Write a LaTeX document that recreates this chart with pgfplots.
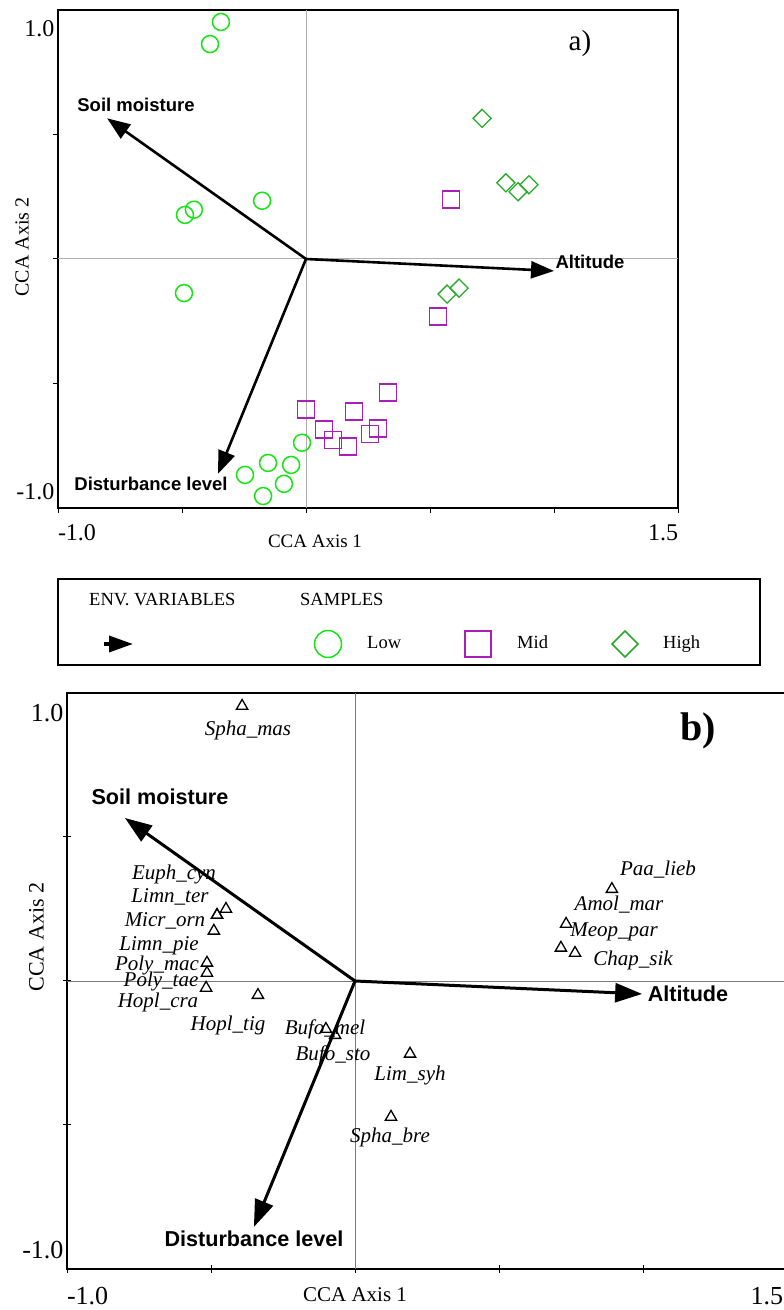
\documentclass[border=0pt]{standalone}
\usepackage{fontspec}
\setmainfont{Liberation Serif}
\newfontfamily\arialfont{Liberation Sans}
\usepackage{pgfplots}
\pgfplotsset{compat=1.18}
\usetikzlibrary{arrows.meta}
\definecolor{lowg}{RGB}{20,230,20}
\definecolor{midp}{RGB}{170,30,185}
\definecolor{highg}{RGB}{40,170,40}
\definecolor{zeroa}{RGB}{175,175,175}
\definecolor{zerob}{RGB}{120,120,120}
\newcommand{\fs}[1]{\fontsize{#1}{#1}\selectfont}
\tikzset{lab/.style={inner sep=0pt, text height=0.7em, text depth=0pt},
  bl/.style={lab, font=\arialfont\bfseries\fs{#1}},
  sp/.style={lab, font=\itshape\fs{21}}}
\begin{document}
\begin{tikzpicture}
\useasboundingbox (0pt,0pt) rectangle (784pt,1310pt);
% ---------------- panel a
\begin{axis}[at={(58pt,802pt)}, anchor=south west, width=620pt, height=498pt, scale only axis,
 xmin=-1, xmax=1.5, ymin=-1, ymax=1,
 axis line style={line width=1.2pt},
 tick pos=left, tick align=outside, major tick length=5pt, tick style={line width=1pt, black},
 xtick={-1,-0.5,0,0.5,1,1.5}, xticklabels={\makebox[0pt][l]{-1.0},,,,,\makebox[0pt][r]{1.5}},
 ytick={-0.5,0,0.5}, yticklabels={},
 extra y ticks={-0.935,0.923}, extra y tick labels={-1.0,1.0},
 extra y tick style={major tick length=0pt},
 ticklabel style={font=\fs{24}},
 xticklabel style={yshift=-8pt},
]
\addplot[zeroa, line width=1pt] coordinates {(0,-1) (0,1)};
\addplot[zeroa, line width=1pt] coordinates {(-1,0) (1.5,0)};
\addplot[only marks, mark=o, mark size=8.5pt, draw=lowg, line width=1.5pt] coordinates {
(-0.343,0.952) (-0.387,0.863) (-0.177,0.234) (-0.452,0.198) (-0.488,0.177) (-0.492,-0.137)
(-0.016,-0.738) (-0.153,-0.819) (-0.060,-0.827) (-0.246,-0.867) (-0.089,-0.903) (-0.173,-0.952)};
\addplot[only marks, mark=square, mark size=8.5pt, draw=midp, line width=1.5pt] coordinates {
(0.585,0.238) (0.532,-0.230) (0.331,-0.536) (0.000,-0.605) (0.194,-0.613)
(0.073,-0.685) (0.109,-0.726) (0.169,-0.754) (0.258,-0.702) (0.290,-0.681)};
\addplot[only marks, mark=square, mark size=6.4pt, mark options={rotate=45}, draw=highg, line width=1.3pt] coordinates {
(0.710,0.565) (0.806,0.306) (0.855,0.270) (0.899,0.298) (0.617,-0.117) (0.569,-0.141)};
\addplot[black, line width=2.6pt, -{Triangle[length=23pt,width=17pt]}] coordinates {(0,0) (-0.802,0.565)};
\addplot[black, line width=2.6pt, -{Triangle[length=23pt,width=17pt]}] coordinates {(0,0) (1.0,-0.048)};
\addplot[black, line width=2.6pt, -{Triangle[length=23pt,width=17pt]}] coordinates {(0,0) (-0.355,-0.863)};
\end{axis}
\node[bl=18.5] at (136pt,1202pt) {Soil moisture};
\node[bl=18.5] at (590pt,1045pt) {Altitude};
\node[bl=18.5] at (151pt,823pt) {Disturbance level};
\node[lab, font=\fs{29}] at (580pt,1263pt) {a)};
\node[lab, font=\fs{20}, rotate=90] at (25pt,1063pt) {CCA Axis 2};
\node[lab, font=\fs{19}] at (315pt,766pt) {CCA Axis 1};
% ---------------- legend box
\begin{axis}[at={(58pt,645pt)}, anchor=south west, width=702pt, height=86pt, scale only axis,
 xmin=58, xmax=760, ymin=579, ymax=665, y dir=reverse,
 xtick=\empty, ytick=\empty, axis line style={line width=2pt}, clip=false]
\addplot[black, line width=3.5pt, -{Triangle[length=24pt,width=16pt]}] coordinates {(104,644) (133,644)};
\addplot[only marks, mark=o, mark size=13.5pt, draw=lowg, line width=1.5pt] coordinates {(328,644)};
\addplot[only marks, mark=square, mark size=13pt, draw=midp, line width=1.5pt] coordinates {(478,644)};
\addplot[only marks, mark=square, mark size=9.2pt, mark options={rotate=45}, draw=highg, line width=1.5pt] coordinates {(625,644)};
\end{axis}
\node[lab, font=\fs{18.5}, anchor=west] at (89pt,708pt) {ENV. VARIABLES};
\node[lab, font=\fs{18.5}, anchor=west] at (300pt,708pt) {SAMPLES};
\node[lab, font=\fs{18.5}, anchor=west] at (367pt,665pt) {Low};
\node[lab, font=\fs{18.5}, anchor=west] at (517pt,665pt) {Mid};
\node[lab, font=\fs{18.5}, anchor=west] at (663pt,665pt) {High};
% ---------------- panel b
\begin{axis}[at={(67pt,41pt)}, anchor=south west, width=720pt, height=576pt, scale only axis,
 xmin=-1, xmax=1.5, ymin=-1, ymax=1,
 axis line style={line width=1.2pt},
 tick pos=left, tick align=center, major tick length=7pt, tick style={line width=1pt, black},
 xtick={-1,-0.5,0,0.5,1,1.5}, xticklabels={\makebox[0pt][l]{-1.0},,,,,\makebox[0pt][r]{1.5\hspace{4pt}}},
 ytick={-0.5,0,0.5}, yticklabels={},
 extra y ticks={-0.934,0.931}, extra y tick labels={-1.0,1.0},
 extra y tick style={major tick length=0pt},
 ticklabel style={font=\fs{26}},
 xticklabel style={yshift=-11pt},
]
\addplot[zerob, line width=0.6pt] coordinates {(0,-1) (0,1)};
\addplot[zerob, line width=0.6pt] coordinates {(-1,0) (1.5,0)};
\addplot[only marks, mark=triangle, mark size=6.5pt, draw=black, line width=1.3pt] coordinates {
(-0.392,0.955) (-0.448,0.250) (-0.479,0.229) (-0.479,0.229) (-0.490,0.174) (-0.514,0.063) (-0.514,0.028)
(-0.517,-0.024) (-0.337,-0.049) (-0.101,-0.167) (-0.069,-0.188) (0.191,-0.253) (0.125,-0.472)
(0.892,0.319) (0.733,0.198) (0.715,0.115) (0.764,0.097)};
\addplot[black, line width=3pt, -{Triangle[length=27pt,width=19pt]}] coordinates {(0,0) (-0.799,0.566)};
\addplot[black, line width=3pt, -{Triangle[length=27pt,width=19pt]}] coordinates {(0,0) (0.997,-0.045)};
\addplot[black, line width=3pt, -{Triangle[length=27pt,width=19pt]}] coordinates {(0,0) (-0.351,-0.854)};
\end{axis}
\node[bl=21.6] at (160pt,509pt) {Soil moisture};
\node[bl=21.6] at (688pt,312pt) {Altitude};
\node[bl=21.6] at (254pt,67pt) {Disturbance level};
\node[lab, font=\bfseries\fs{40}] at (698pt,573pt) {b)};
\node[lab, font=\fs{22}, rotate=90] at (40pt,373pt) {CCA Axis 2};
\node[lab, font=\fs{21}] at (355pt,12pt) {CCA Axis 1};
% species labels
\node[sp] at (248pt,578pt) {Spha\_mas};
\node[sp] at (174pt,434pt) {Euph\_cyn};
\node[sp] at (170pt,411pt) {Limn\_ter};
\node[sp] at (165pt,387pt) {Micr\_orn};
\node[sp] at (159pt,363pt) {Limn\_pie};
\node[sp] at (157pt,343pt) {Poly\_mac};
\node[sp] at (161pt,327pt) {Poly\_tae};
\node[sp] at (158pt,306pt) {Hopl\_cra};
\node[sp] at (228pt,283pt) {Hopl\_tig};
\node[sp] at (325pt,279pt) {Bufo\_mel};
\node[sp] at (333pt,253pt) {Bufo\_sto};
\node[sp] at (410pt,233pt) {Lim\_syh};
\node[sp] at (390pt,171pt) {Spha\_bre};
\node[sp] at (658pt,438pt) {Paa\_lieb};
\node[sp] at (619pt,403pt) {Amol\_mar};
\node[sp] at (614pt,377pt) {Meop\_par};
\node[sp] at (633pt,348pt) {Chap\_sik};
\end{tikzpicture}
\end{document}
